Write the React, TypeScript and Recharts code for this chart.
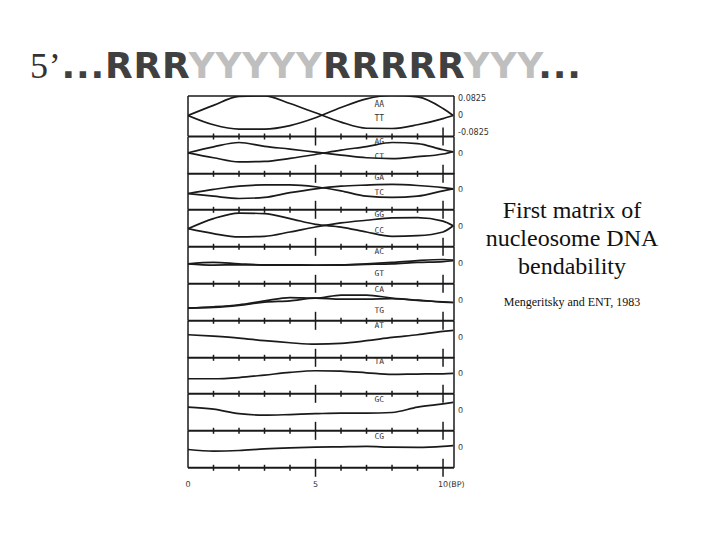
import React from "react";
import { LineChart, Line, XAxis, YAxis, ReferenceLine } from "recharts";

// positions along the helix (bp) where the curves were read
const X_POS = [0, 1, 2, 3, 4, 5, 6, 7, 8, 9, 10, 10.4];
const X_TICKS = [0, 1, 2, 3, 4, 5, 6, 7, 8, 9, 10];
const X_TICK_LABELS: Record<number, string> = { 0: "0", 5: "5", 10: "10(BP)" };

// bendability curves
const AA = [0, -0.045, -0.066, -0.066, -0.049, -0.011, 0.039, 0.081, 0.097, 0.09, 0.034, 0];
const TT = [0, 0.049, 0.093, 0.095, 0.058, 0.013, -0.032, -0.062, -0.063, -0.045, -0.015, 0];
const AG = [0, -0.024, -0.044, -0.042, -0.027, -0.008, 0.013, 0.03, 0.05, 0.045, 0.015, 0.005];
const CT = [0, 0.029, 0.05, 0.031, 0.018, 0.003, -0.011, -0.024, -0.028, -0.019, -0.006, 0.005];
const GA = [-0.023, -0.036, -0.047, -0.042, -0.019, 0, 0.013, 0.018, 0.021, 0.016, 0.006, 0];
const TC = [-0.023, -0.003, 0.013, 0.019, 0.019, 0.01, -0.01, -0.036, -0.042, -0.036, -0.01, 0];
const GG = [-0.014, -0.038, -0.054, -0.051, -0.03, -0.006, 0.014, 0.027, 0.038, 0.04, 0.023, 0];
const CC = [-0.014, 0.035, 0.062, 0.059, 0.035, 0.007, -0.006, -0.03, -0.051, -0.048, -0.03, 0];
const AC = [-0.005, 0.002, -0.005, -0.01, -0.01, -0.011, -0.01, -0.005, 0.002, 0.011, 0.016, 0.013];
const GT = [-0.005, -0.011, -0.01, -0.011, -0.012, -0.012, -0.011, -0.008, -0.005, 0.002, 0.006, 0.01];
const CA = [-0.04, -0.034, -0.024, -0.005, 0.011, 0.008, 0.023, 0.023, 0.008, -0.002, -0.01, -0.013];
const TG = [-0.04, -0.037, -0.027, -0.011, -0.005, 0.008, 0.003, 0.003, 0.005, -0.003, -0.011, -0.013];
const AT = [0.01, 0.003, -0.006, -0.019, -0.029, -0.036, -0.032, -0.019, -0.003, 0.01, 0.026, 0.031];
const TA = [-0.029, -0.029, -0.023, -0.011, 0.002, 0.01, 0.008, 0, -0.008, -0.006, -0.005, -0.003];
const GC = [0.013, 0.003, -0.019, -0.026, -0.023, -0.019, -0.016, -0.016, -0.013, 0.013, 0.029, 0.036];
const CG = [-0.013, -0.021, -0.018, -0.01, -0.005, -0.002, 0, 0.002, -0.002, -0.003, 0.002, 0.006];

const PANEL_NAMES = [
  ["AA", "TT"], ["AG", "CT"], ["GA", "TC"], ["GG", "CC"], ["AC", "GT"],
  ["CA", "TG"], ["AT"], ["TA"], ["GC"], ["CG"],
];
const PANEL_SERIES = [
  [AA, TT], [AG, CT], [GA, TC], [GG, CC], [AC, GT],
  [CA, TG], [AT], [TA], [GC], [CG],
];

const SCALE_TICKS = [0.0825, 0, -0.0825];
const RULER_TICKS = [-0.0825, -0.066, -0.0495, -0.033, -0.0165, 0.0165, 0.033, 0.0495, 0.066, 0.0825];

// layout (pixels)
const INK = "#1a1a1a";
const PLOT_LEFT = 188;
const PLOT_W = 266;
const X_MAX = 10.43;
const PX_PER_UNIT = 206;
const FIRST_TOP = 96;
const FIRST_AXIS = 136.5;
const STEP = 36.8;
const ZERO_GAP = 21;
const PAD = 26;
const RIGHT_W = 44;
const LABEL_X = 7.5;
const LABEL_DY = [
  [-11.5, 3], [-11, 4], [-11.5, 4], [-11.5, 5], [-11, 10.5],
  [-10.5, 10.5], [-11], [-11], [-10.5], [-10],
];

const AxisTick = (props: any) => {
  const { x, y, payload, showLabels } = props;
  const v = payload.value;
  const long = v === 5 || v === 10;
  const h = long ? 9 : 3;
  const label = X_TICK_LABELS[v];
  return (
    <g>
      {v !== 0 && (
        <line x1={x} x2={x} y1={y - h} y2={y + h} stroke={INK} strokeWidth={1.5} />
      )}
      {showLabels && label && (
        <text
          x={v === 10 ? x - 5 : x}
          y={y + 19}
          textAnchor={v === 10 ? "start" : "middle"}
          fontSize={8}
          fontFamily="DejaVu Sans"
          fill="#333"
        >
          {label}
        </text>
      )}
    </g>
  );
};

const Panel = ({ k }: { k: number }) => {
  const top = k === 0 ? FIRST_TOP : FIRST_AXIS + (k - 1) * STEP;
  const axis = FIRST_AXIS + k * STEP;
  const zero = axis - ZERO_GAP;
  const yMax = (zero - top) / PX_PER_UNIT;
  const yMin = -ZERO_GAP / PX_PER_UNIT;
  const plotH = axis - top;
  const series = PANEL_SERIES[k];
  const names = PANEL_NAMES[k];
  const last = k === PANEL_SERIES.length - 1;
  const data = X_POS.map((x, i) => {
    const row: any = { x };
    series.forEach((s, j) => {
      row["s" + j] = s[i];
    });
    return row;
  });

  const pairLabel = (p: any) => {
    const vb = p.viewBox || {};
    const lx = vb.x + (vb.width * LABEL_X) / X_MAX;
    return (
      <g>
        {names.map((n, j) => (
          <text
            key={n}
            x={lx}
            y={vb.y + LABEL_DY[k][j]}
            textAnchor="middle"
            dominantBaseline="central"
            fontSize={8}
            fontFamily="DejaVu Sans Mono"
            fill="#333"
          >
            {n}
          </text>
        ))}
      </g>
    );
  };

  return (
    <div style={{ position: "absolute", left: PLOT_LEFT - PAD, top: top - PAD }}>
      <LineChart
        width={PAD + PLOT_W + RIGHT_W}
        height={plotH + 1 + 2 * PAD}
        data={data}
        margin={{ top: PAD, right: 0, bottom: PAD, left: PAD - 1 }}
      >
        <XAxis
          type="number"
          dataKey="x"
          domain={[0, X_MAX]}
          ticks={X_TICKS}
          interval={0}
          allowDataOverflow
          height={1}
          tickLine={false}
          tickSize={0}
          tickMargin={0}
          axisLine={{ stroke: INK, strokeWidth: 2 }}
          tick={(p: any) => <AxisTick {...p} showLabels={last} />}
        />
        <YAxis
          yAxisId="frame"
          orientation="left"
          width={1}
          type="number"
          domain={[yMin, yMax]}
          allowDataOverflow
          ticks={k === 0 ? RULER_TICKS : [0]}
          interval={0}
          tick={false}
          tickLine={k === 0 ? { stroke: INK } : false}
          tickSize={-4}
          axisLine={{ stroke: INK, strokeWidth: 1.5 }}
        />
        <YAxis
          orientation="right"
          width={RIGHT_W}
          type="number"
          domain={[yMin, yMax]}
          allowDataOverflow
          ticks={k === 0 ? SCALE_TICKS : [0]}
          interval={0}
          tickLine={false}
          tickSize={0}
          tickMargin={4}
          tickFormatter={(v: number) => String(v)}
          axisLine={{ stroke: INK, strokeWidth: 1.5 }}
          tick={{ fontSize: 8, fill: "#333", fontFamily: "DejaVu Sans" }}
        />
        {k === 0 && <ReferenceLine y={yMax} stroke={INK} strokeWidth={1.5} ifOverflow="visible" />}
        <ReferenceLine y={0} stroke="none" label={pairLabel} />
        {series.map((_, j) => (
          <Line
            key={j}
            dataKey={"s" + j}
            type="monotone"
            stroke={INK}
            strokeWidth={1.7}
            dot={false}
            isAnimationActive={false}
          />
        ))}
      </LineChart>
    </div>
  );
};

export default function App() {
  return (
    <div
      style={{
        position: "absolute",
        left: 0,
        top: 0,
        width: 720,
        height: 540,
        background: "#fff",
        overflow: "hidden",
      }}
    >
      <svg width={720} height={540} style={{ position: "absolute", left: 0, top: 0 }}>
        <text x={30} y={78} fontSize={36} letterSpacing={0.8}>
          <tspan fontFamily="Liberation Serif" fill="#333">5’</tspan>
          <tspan fontFamily="DejaVu Sans" fontWeight="bold" fill="#404040">...RRR</tspan>
          <tspan fontFamily="DejaVu Sans" fontWeight="bold" fill="#bfbfbf">YYYYY</tspan>
          <tspan fontFamily="DejaVu Sans" fontWeight="bold" fill="#404040">RRRRR</tspan>
          <tspan fontFamily="DejaVu Sans" fontWeight="bold" fill="#bfbfbf">YYY</tspan>
          <tspan fontFamily="DejaVu Sans" fontWeight="bold" fill="#404040">...</tspan>
        </text>
        <g fontFamily="Liberation Serif" fill="#111" textAnchor="middle">
          <text x={572} y={218} fontSize={24}>First matrix of</text>
          <text x={572} y={246} fontSize={24}>nucleosome DNA</text>
          <text x={572} y={274} fontSize={24}>bendability</text>
          <text x={572} y={306} fontSize={12}>Mengeritsky and ENT, 1983</text>
        </g>
      </svg>
      {PANEL_SERIES.map((_, k) => (
        <Panel key={k} k={k} />
      ))}
    </div>
  );
}
